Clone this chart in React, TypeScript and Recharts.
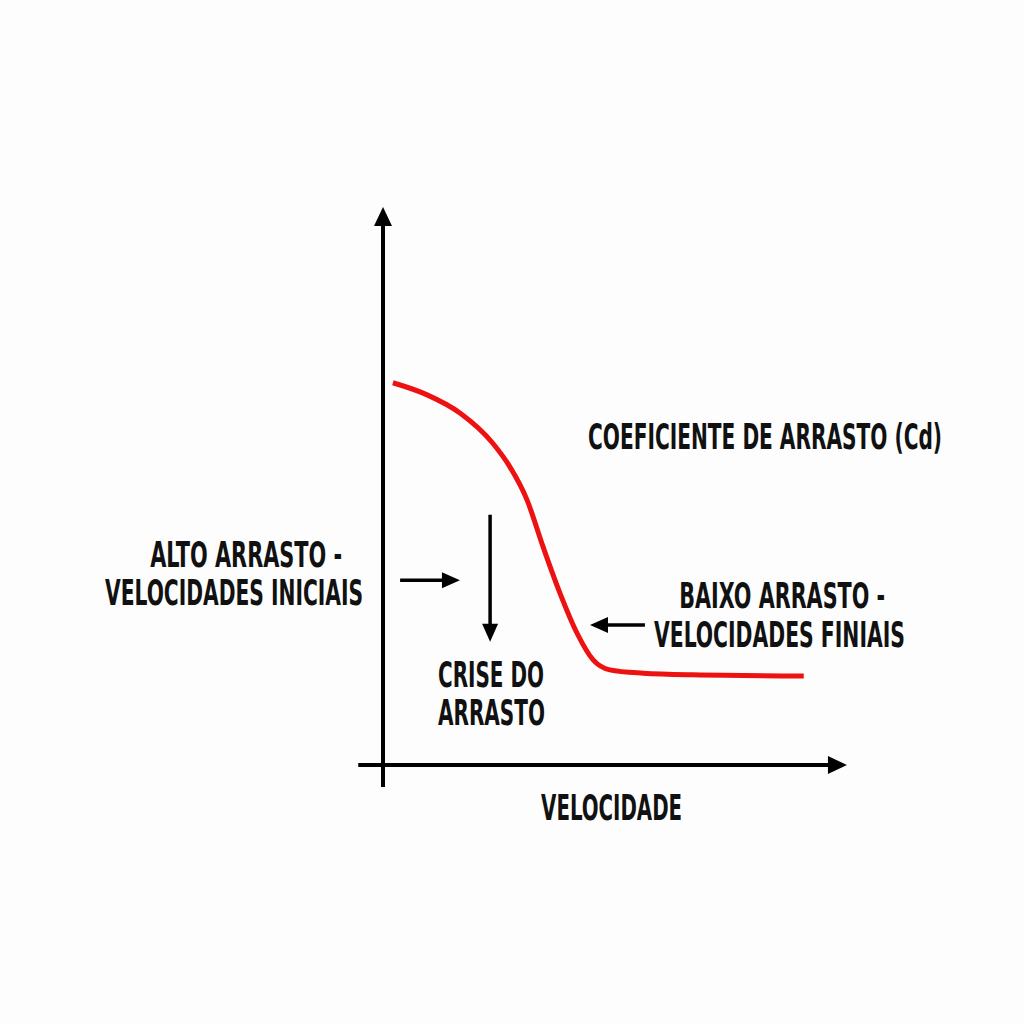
import React from 'react';
import { ComposedChart, Line, XAxis, YAxis, ReferenceLine, ReferenceDot } from 'recharts';

// velocity (0-100) vs drag coefficient (0-100)
const velocity = [2.2, 9.8, 17.1, 24.4, 28.2, 32.0, 35.6, 39.3, 43.1, 46.7, 50.4, 57.8, 68.9, 93.5];
const dragCoef = [69.5, 67.3, 64.0, 58.5, 54.2, 48.2, 39.6, 31.3, 24.0, 19.1, 17.3, 16.7, 16.4, 16.2];

const data = velocity.map((v, i) => ({ v, cd: dragCoef[i] }));

// annotation texts: [text, x, baseline y, width]
const labels: [string, number, number, number][] = [
  ['COEFICIENTE DE ARRASTO (Cd)', 84.9, 57.45, 354],
  ['ALTO ARRASTO -', -30.4, 36.05, 192],
  ['VELOCIDADES INICIAIS', -33.1, 29.1, 258],
  ['BAIXO ARRASTO -', 88.7, 28.55, 206],
  ['VELOCIDADES FINIAIS', 88.1, 21.45, 251],
  ['CRISE DO', 24.0, 14.2, 106],
  ['ARRASTO', 24.1, 7.27, 107],
  ['VELOCIDADE', 50.8, -10.0, 141],
];

// arrows: [x1, y1, x2, y2] (tip at x2,y2)
const axisArrows: [number, number, number, number][] = [
  [0, -4.0, 0, 101.45],
  [-5.5, 0, 103.1, 0],
];
const pointerArrows: [number, number, number, number][] = [
  [3.8, 33.6, 17.1, 33.6],
  [23.8, 45.5, 23.8, 22.4],
  [58.2, 25.45, 46.0, 25.45],
];

const FONT = "'Liberation Sans Narrow', 'DejaVu Sans Condensed', 'Liberation Sans', sans-serif";

function makeArrow(width: number, headLen: number, headHalf: number) {
  return (props: any) => {
    const { x1, y1, x2, y2 } = props;
    const dx = x2 - x1;
    const dy = y2 - y1;
    const len = Math.sqrt(dx * dx + dy * dy) || 1;
    const ux = dx / len;
    const uy = dy / len;
    const bx = x2 - ux * headLen;
    const by = y2 - uy * headLen;
    const pts = [
      `${x2},${y2}`,
      `${bx - uy * headHalf},${by + ux * headHalf}`,
      `${bx + uy * headHalf},${by - ux * headHalf}`,
    ].join(' ');
    return (
      <g>
        <line x1={x1} y1={y1} x2={bx + ux} y2={by + uy} stroke="#000" strokeWidth={width} />
        <polygon points={pts} fill="#000" />
      </g>
    );
  };
}

// condensed look: small font stretched upward, squeezed to the measured width
function makeText(text: string, width: number) {
  return (props: any) => (
    <text
      x={0}
      y={0}
      transform={`translate(${props.cx} ${props.cy}) scale(1 1.32)`}
      textAnchor="middle"
      fontFamily={FONT}
      fontWeight="bold"
      fontSize={26.5}
      fill="#111"
      textLength={width}
      lengthAdjust="spacingAndGlyphs"
    >
      {text}
    </text>
  );
}

export default function App() {
  return (
    <div style={{ position: 'absolute', left: 0, top: 0, width: 1024, height: 1024, background: '#fdfdfd' }}>
      <ComposedChart
        width={1024}
        height={1024}
        data={data}
        margin={{ top: 206.75, right: 62.75, left: 99.5, bottom: 180.9 }}
      >
        <XAxis dataKey="v" type="number" domain={[-63, 128.5]} hide allowDataOverflow />
        <YAxis type="number" domain={[-14.2, 101.5]} hide allowDataOverflow />
        {axisArrows.map((a, i) => (
          <ReferenceLine
            key={'ax' + i}
            segment={[{ x: a[0], y: a[1] }, { x: a[2], y: a[3] }]}
            ifOverflow="visible"
            shape={makeArrow(4, 19, 9)}
          />
        ))}
        {pointerArrows.map((a, i) => (
          <ReferenceLine
            key={'pa' + i}
            segment={[{ x: a[0], y: a[1] }, { x: a[2], y: a[3] }]}
            ifOverflow="visible"
            shape={makeArrow(3.5, 18, 8)}
          />
        ))}
        <Line
          type="monotone"
          dataKey="cd"
          stroke="#ee1111"
          strokeWidth={5}
          dot={false}
          isAnimationActive={false}
        />
        {labels.map(([t, x, y, w]) => (
          <ReferenceDot key={t} x={x} y={y} r={0} ifOverflow="visible" shape={makeText(t, w)} />
        ))}
      </ComposedChart>
    </div>
  );
}
